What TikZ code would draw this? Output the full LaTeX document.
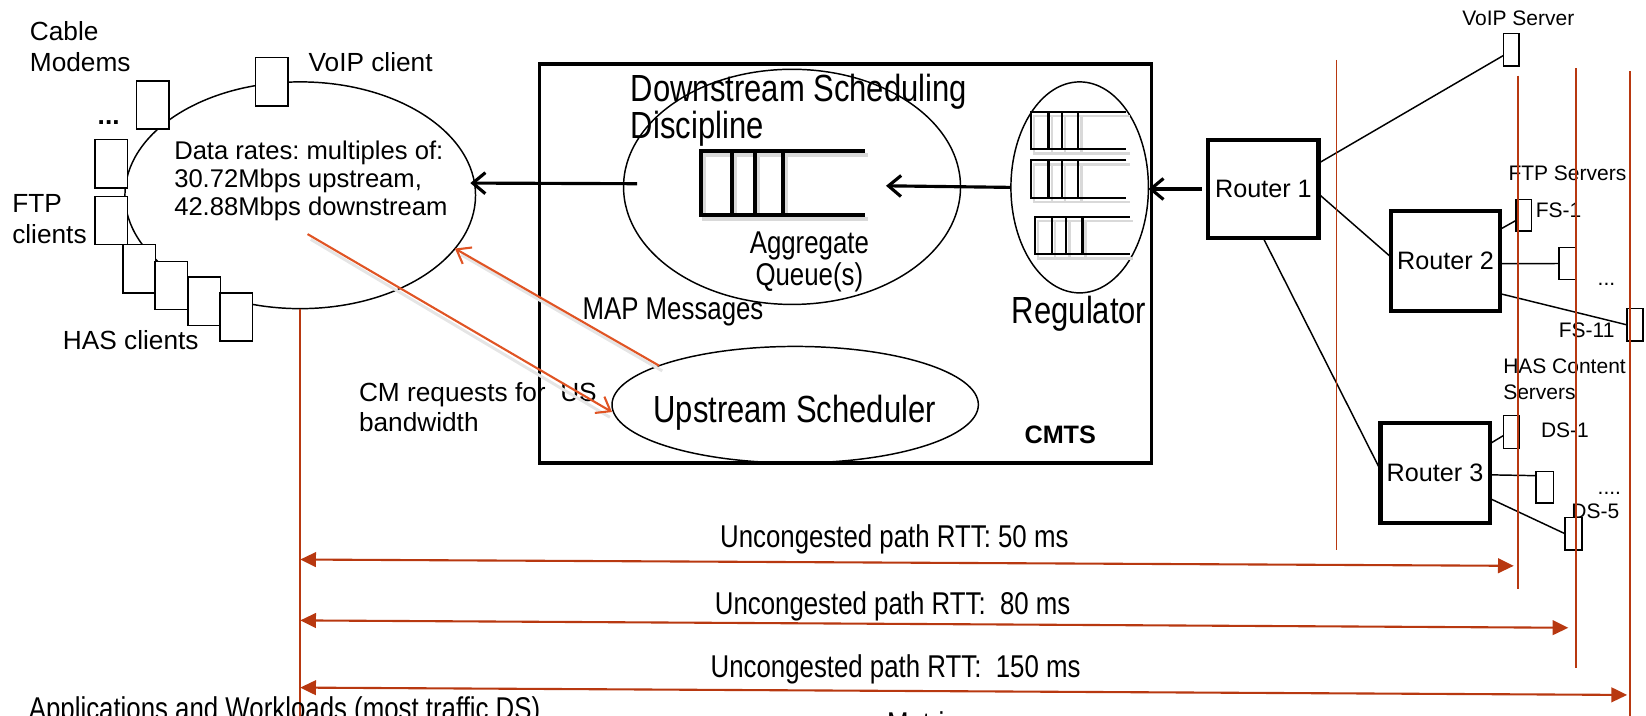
\documentclass[tikz,border=0pt]{standalone}
\usepackage{fontspec}
\setmainfont{Liberation Sans}
\newfontfamily\narrowfont[FakeStretch=0.82]{Liberation Sans}
\usetikzlibrary{arrows.meta,shapes.geometric,calc}
\definecolor{rttc}{RGB}{184,56,16}
\definecolor{diagc}{RGB}{224,84,36}
\frenchspacing
\newcommand\myqueue[8]{%
 \draw[line width=#8,black!15,xshift=1.5pt,yshift=-2pt] (#2,#3) -- (#1,#3) -- (#1,#4) -- (#2,#4) (#5,#3)--(#5,#4) (#6,#3)--(#6,#4) (#7,#3)--(#7,#4);
 \draw[line width=#8] (#2,#3) -- (#1,#3) -- (#1,#4) -- (#2,#4) (#5,#3)--(#5,#4) (#6,#3)--(#6,#4) (#7,#3)--(#7,#4);}
\begin{document}
\begin{tikzpicture}[x=0.5pt,y=-0.5pt,
 every node/.style={inner sep=0pt,outer sep=0pt},
 lab/.style={font=\fontsize{12.5}{15}\selectfont,align=left,anchor=north west},
 small/.style={font=\fontsize{10}{12.5}\selectfont,align=left,anchor=north west},
 nar/.style={font=\narrowfont\fontsize{15}{15}\selectfont,align=left,anchor=north west},
 narbig/.style={font=\narrowfont\fontsize{18}{17.5}\selectfont,align=left,anchor=north west},
 cmbox/.style={draw,fill=white,line width=0.7pt,minimum width=15.5pt,minimum height=23pt},
 srv/.style={draw,fill=white,line width=0.7pt},
 router/.style={draw,line width=2pt,font=\fontsize{12}{14}\selectfont,minimum width=52.5pt,minimum height=47pt},
 oval/.style={draw,ellipse,line width=0.7pt},
 blk/.style={line width=1.5pt,-{Straight Barb[length=6pt,width=10pt]}},
 link/.style={line width=0.7pt},
 rtt/.style={draw=rttc,line width=1pt,{Triangle[length=7.5pt,width=7pt]}-{Triangle[length=7.5pt,width=7pt]}},
 rline/.style={draw=rttc,line width=0.8pt},
 diag/.style={draw=diagc,line width=1pt,-{Straight Barb[length=6pt,width=9pt]}},
 shad/.style={draw=black!10,line width=1.4pt}
]
\useasboundingbox (0,0) rectangle (1568,682);
\clip (0,0) rectangle (1568,682);

% CMTS
\node (cmts) [draw,line width=1.5pt,minimum width=291.5pt,minimum height=190pt] at (805.5,251) {};
\node (cmtslab) [font=\bfseries\fontsize{12}{14}\selectfont] at (1010,414) {CMTS};

% clients ellipse
\node (cm) [oval,minimum width=167pt,minimum height=108pt] at (286,186) {};
\node (voipc) [cmbox] at (259,78) {};
\node (cma) [cmbox] at (145.5,100) {};
\node (ftpa) [cmbox] at (106,156) {};
\node (ftpb) [cmbox] at (106,210) {};
\node (has1) [cmbox] at (132.5,256) {};
\node (has2) [cmbox] at (163,272) {};
\node (has3) [cmbox] at (194.5,287) {};
\node (has4) [cmbox] at (225,302) {};
\node (cablelab) [lab] at (28.5,20) {Cable\\Modems};
\node (voiplab) [lab] at (294,50) {VoIP client};
\node (dots1) [font=\bfseries\fontsize{12.5}{15}\selectfont,anchor=base] at (103.5,119) {...};
\node (ftplab) [lab] at (11.7,185) {FTP\\clients};
\node (haslab) [lab] at (60,315) {HAS clients};
\node (ratelab) [lab,font=\fontsize{12.2}{13.5}\selectfont] at (166,134) {Data rates: multiples of:\\30.72Mbps upstream,\\42.88Mbps downstream};

% downstream
\node (ds) [oval,minimum width=160.5pt,minimum height=112pt] at (754.5,178) {};
\node (dslab) [narbig] at (601,71) {Downstream Scheduling\\Discipline};
\myqueue{668}{824}{144}{205}{697}{719}{746}{1.9pt}
\node (dsq) [minimum width=78pt,minimum height=30.5pt] at (746,177) {};
\node (agglab) [nar,anchor=north,align=center] at (771,221) {Aggregate\\Queue(s)};

% regulator
\node (reg) [oval,minimum width=65.5pt,minimum height=100.5pt] at (1028.5,178.5) {};
\myqueue{982}{1073}{106.5}{142}{999}{1011.6}{1027}{1.2pt}
\myqueue{982}{1073}{152.5}{188.6}{999}{1011.6}{1027}{1.2pt}
\myqueue{986}{1076}{206.5}{242}{1002}{1015.6}{1031}{1.2pt}
\node (reglab) [narbig,anchor=north] at (1028,282) {Regulator};

% upstream
\node (us) [oval,minimum width=174.5pt,minimum height=55.5pt] at (757.5,385.5) {};
\node (uslab) [narbig,anchor=north] at (757,376) {Upstream Scheduler};
\node (maplab) [nar] at (555,284) {MAP Messages};
\node (cmreqlab) [lab,font=\fontsize{12.5}{14.5}\selectfont] at (342,364) {CM requests for\ \ US\\bandwidth};

% routers
\node (r1) [router] at (1203.5,180) {Router 1};
\node (r2) [router,minimum width=52pt,minimum height=47.5pt] at (1377,248.5) {Router 2};
\node (r3) [router,minimum width=52pt,minimum height=47.5pt] at (1367,450.5) {Router 3};

% servers
\node (voips) [srv,minimum width=7.5pt,minimum height=15.5pt] at (1439.5,47.5) {};
\node (fs1) [srv,minimum width=7.5pt,minimum height=15pt] at (1451.5,205) {};
\node (fsm) [srv,minimum width=8pt,minimum height=15pt] at (1493,251) {};
\node (fs11) [srv,minimum width=7.5pt,minimum height=15.5pt] at (1557.5,309.5) {};
\node (ds1) [srv,minimum width=7.5pt,minimum height=15.5pt] at (1439.5,411.5) {};
\node (dsm) [srv,minimum width=8.5pt,minimum height=15pt] at (1471.5,464) {};
\node (ds5) [srv,minimum width=8pt,minimum height=15.5pt] at (1499,508.5) {};
\node (voipslab) [small] at (1393,10) {VoIP Server};
\node (ftpslab) [small] at (1437,158) {FTP Servers};
\node (fs1lab) [small] at (1463,193) {FS-1};
\node (fsdots) [small,anchor=base west] at (1522,272) {...};
\node (fs11lab) [small] at (1485,308) {FS-11};
\node (hasslab) [small] at (1432,342) {HAS Content\\Servers};
\node (ds1lab) [small] at (1468,403) {DS-1};
\node (dsdots) [small,anchor=base west] at (1522,471) {....};
\node (ds5lab) [small] at (1497,480) {DS-5};

% links
\draw[link] (r1.25.5) -- (voips.216);
\draw[link] (r1.-5.4) -- (r2.176);
\draw[link] (r1.south) -- (r3.177);
\draw[link] (r2.30) -- (fs1.214);
\draw[link] (r2.-3.9) -- (fsm.west);
\draw[link] (r2.-31.2) -- (fs11.west);
\draw[link] (r3.28.7) -- (ds1.205);
\draw[link] (r3.-2.8) -- (dsm.128);
\draw[link] (r3.-25.2) -- (ds5.west);

% black arrows
\draw[blk] ([xshift=-3pt]r1.west) -- (r1.west -| reg.east);
\draw[blk] (reg.west) -- ([xshift=10pt]dsq.east);
\draw[blk] ([xshift=6.5pt,yshift=1.5pt]ds.west) -- ([xshift=-2pt]cm.4);

% orange diagonal arrows
\coordinate (cmreq) at (293,223);
\draw[shad] ([xshift=1.5pt,yshift=-2.5pt]cmreq) -- ([xshift=-1pt,yshift=-6pt]us.west);
\draw[shad] ([xshift=1.5pt,yshift=-2.5pt]us.164) -- ([xshift=3pt,yshift=-3pt]cm.-19);
\draw[diag] (cmreq) -- ([yshift=-3.5pt]us.west);
\draw[diag] (us.164) -- (cm.-19);

% RTT
\coordinate (a50l) at (286,533); \coordinate (a50r) at (1442,539);
\coordinate (a80l) at (286,591); \coordinate (a80r) at (1494,598);
\coordinate (a150l) at (286,655); \coordinate (a150r) at (1550,662);
\draw[rtt] (a50l) -- (a50r);
\draw[rtt] (a80l) -- (a80r);
\draw[rtt] (a150l) -- (a150r);
\node (l50) [nar] at (686,500) {Uncongested path RTT: 50 ms};
\node (l80) [nar] at (681,564) {Uncongested path RTT:\ \ 80 ms};
\node (l150) [nar] at (677,624) {Uncongested path RTT:\ \ 150 ms};

% vertical lines
\coordinate (v0b) at (286,690);
\draw[rline] (cm.south) -- (v0b);
\coordinate (v1t) at (1273,57); \coordinate (v1b) at (1273,524);
\coordinate (v2t) at (1446,72); \coordinate (v2b) at (1446,561);
\coordinate (v3t) at (1501,65); \coordinate (v3b) at (1501,636);
\coordinate (v4t) at (1553,68); \coordinate (v4b) at (1553,690);
\draw[rline] (v1t) -- (v1b);
\draw[rline] (v2t) -- (v2b);
\draw[rline] (v3t) -- (v3b);
\draw[rline] (v4t) -- (v4b);

% bottom texts
\node (applab) [nar] at (27.5,664) {Applications and Workloads (most traffic DS)};
\node (metlab) [nar] at (845,678) {Metrics};
\end{tikzpicture}
\end{document}
